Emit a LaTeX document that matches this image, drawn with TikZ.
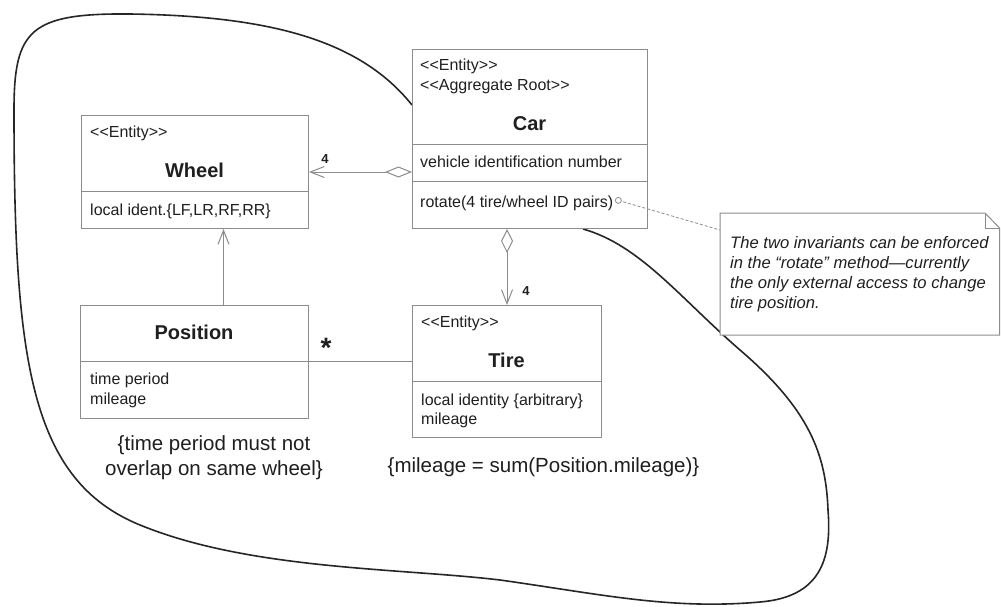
\documentclass[tikz,border=0pt]{standalone}
\usepackage{fontspec}
\setmainfont{Liberation Sans}
\usetikzlibrary{arrows.meta,calc}
\definecolor{boxline}{gray}{0.55}
\definecolor{txt}{gray}{0.12}
\newcommand\stereo[1]{<\kern0pt<#1>\kern0pt>}
\begin{document}
\begin{tikzpicture}[x=1pt,y=-1pt,
  umlbox/.style={draw=boxline, line width=1pt, fill=white, rectangle, inner sep=0pt, anchor=north west},
  divider/.style={draw=boxline, line width=1pt},
  small/.style={font=\fontsize{16}{20}\selectfont, text=txt, inner sep=0pt, anchor=base west},
  classname/.style={font=\fontsize{20}{24}\selectfont\bfseries, text=txt, inner sep=0pt, anchor=base},
  constraint/.style={font=\fontsize{20.5}{25}\selectfont, text=txt, inner sep=0pt, anchor=base},
  notetext/.style={font=\fontsize{16.6}{20}\selectfont\itshape, text=txt, inner sep=0pt, anchor=base west},
  mult/.style={font=\fontsize{13}{13}\selectfont\bfseries, text=txt, inner sep=0pt, anchor=base},
  conn/.style={draw=boxline, line width=1pt},
  openhead/.style={-{Straight Barb[length=14pt,width=11pt,line width=1pt]}},
  blob/.style={draw=black!85, line width=1.6pt}
]
\useasboundingbox (0,0) rectangle (1001,606);
\fill[white] (0,0) rectangle (1001,606);

% aggregate boundary
\draw[blob] (412,105) .. controls (360,40) and (270,16) .. (130,14)
  .. controls (30,13) and (14,30) .. (14,110)
  .. controls (14,360) and (30,480) .. (140,525)
  .. controls (250,570) and (400,568) .. (500,580)
  .. controls (600,594) and (670,610) .. (760,602)
  .. controls (820,597) and (832,560) .. (828,510)
  .. controls (826,455) and (810,410) .. (740,350)
  .. controls (680,298) and (640,245) .. (583,229);

% Car
\node[umlbox, minimum width=235pt, minimum height=179pt] (car) at (412,49) {};
\draw[divider] (car.west |- 0,144) -- (car.east |- 0,144);
\draw[divider] (car.west |- 0,181) -- (car.east |- 0,181);
\node[small] (carst1) at (420,70.5) {\stereo{Entity}};
\node[small] (carst2) at (420,90.5) {\stereo{Aggregate Root}};
\node[classname] (carname) at (529.5,130) {Car};
\node[small] (vin) at (420,167.5) {vehicle identification number};
\node[small] (rot) at (420,207.5) {rotate(4 tire/wheel ID pairs)};

% Wheel
\node[umlbox, minimum width=227pt, minimum height=113pt] (wheel) at (81,115) {};
\draw[divider] (wheel.west |- 0,191) -- (wheel.east |- 0,191);
\node[small] (wheelst) at (90,137.5) {\stereo{Entity}};
\node[classname] (wheelname) at (194.5,177) {Wheel};
\node[small] (wheelattr) at (90,215.5) {local ident.\{LF,LR,RF,RR\}};

% Position
\node[umlbox, minimum width=228pt, minimum height=113pt] (pos) at (80,305) {};
\draw[divider] (pos.west |- 0,361) -- (pos.east |- 0,361);
\node[classname] (posname) at (194,339) {Position};
\node[small] (posattr1) at (90,384.5) {time period};
\node[small] (posattr2) at (90,404) {mileage};
\node[constraint] (poscon1) at (214,450) {\{time period must not};
\node[constraint] (poscon2) at (214,475) {overlap on same wheel\}};

% Tire
\node[umlbox, minimum width=189pt, minimum height=132pt] (tire) at (412,305) {};
\draw[divider] (tire.west |- 0,381) -- (tire.east |- 0,381);
\node[small] (tirest) at (421,327.5) {\stereo{Entity}};
\node[classname] (tirename) at (506.5,367) {Tire};
\node[small] (tireattr1) at (421,405) {local identity \{arbitrary\}};
\node[small] (tireattr2) at (421,424.5) {mileage};
\node[constraint] (tirecon) at (543.5,472) {\{mileage = sum(Position.mileage)\}};

% Note
\draw[boxline, line width=1pt, fill=white] (720,213) -- (985,213) -- (999.5,228) -- (999.5,335) -- (720,335) -- cycle;
\draw[boxline, line width=1pt] (985,213) -- (985,228) -- (999.5,228);
\coordinate (noteleft) at (720,230);
\node[notetext] (n1) at (730,248) {The two invariants can be enforced};
\node[notetext] (n2) at (730,268) {in the “rotate” method—currently};
\node[notetext] (n3) at (730,288) {the only external access to change};
\node[notetext] (n4) at (730,308) {tire position.};

% anchor circle and dashed note link
\coordinate (rotend) at ($(rot.east)+(5,-3)$);
\draw[boxline, line width=0.8pt, dash pattern=on 3pt off 2pt] (rotend) -- (noteleft);
\draw[boxline, line width=0.8pt, fill=white] (rotend) circle[radius=3pt];

% Car -> Wheel
\draw[conn, {Diamond[open,length=27pt,width=11pt,line width=1pt]}-{Straight Barb[length=14pt,width=11pt,line width=1pt]}]
  (car.west |- wheel.east) -- (wheel.east);
\node[mult] (m1) at (325,163) {4};

% Car -> Tire
\draw[conn, {Diamond[open,length=24pt,width=12pt,line width=1pt]}-{Straight Barb[length=14pt,width=11pt,line width=1pt]}]
  (car.south -| tire.north) -- (tire.north);
\node[mult] (m2) at (526,295) {4};

% Position -> Wheel
\coordinate (pw) at ($(pos.north)+(29,0)$);
\draw[conn, openhead] (pw) -- (pw |- wheel.south);

% Position -- Tire
\coordinate (pdiv) at (pos.east |- 0,361);
\draw[conn] (pdiv) -- (pdiv -| tire.west);
\node[font=\fontsize{28}{28}\selectfont\bfseries, text=txt, inner sep=0pt, anchor=base] (star) at (326,357) {*};
\end{tikzpicture}
\end{document}
